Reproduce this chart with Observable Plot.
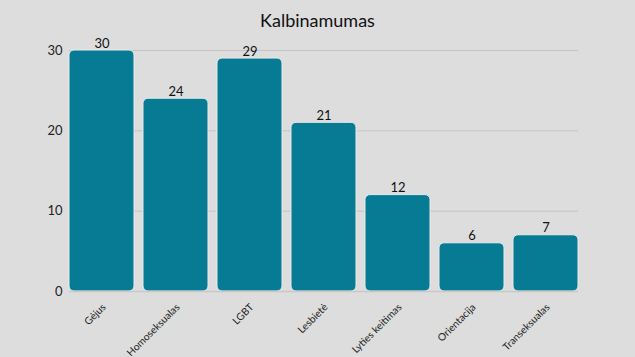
<!DOCTYPE html>
<html>
<head>
<meta charset="utf-8">
<script src="https://cdn.jsdelivr.net/npm/d3@7"></script>
<script src="https://cdn.jsdelivr.net/npm/@observablehq/plot@0.6"></script>
<style>
  html, body { margin: 0; padding: 0; background: #dddddd; }
  #wrap { position: relative; width: 635px; height: 357px; overflow: hidden; background: #dddddd; }
  #title { position: absolute; left: 0; top: 8px; width: 635px; height: 24px; line-height: 24px; text-align: center; font-family: Lato, "Noto Sans", sans-serif; font-size: 18px; color: #111; }
  #chart { position: absolute; left: 0; top: 0; }
</style>
</head>
<body>
<div id="wrap">
  <div id="chart"></div>
  <div id="title">Kalbinamumas</div>
</div>
<script>
const categories = ["Gėjus", "Homoseksualas", "LGBT", "Lesbietė", "Lyties keitimas", "Orientacija", "Transeksualas"];
const values = [30, 24, 29, 21, 12, 6, 7];
const yTicks = [0, 10, 20, 30];

const data = categories.map((c, i) => ({category: c, value: values[i]}));

const chart = Plot.plot({
  width: 635,
  height: 357,
  marginLeft: 69,
  marginRight: 57,
  marginTop: 50,
  marginBottom: 66,
  style: {background: "transparent", fontFamily: "Lato, 'Noto Sans', sans-serif", fontSize: "12px", color: "#222", overflow: "visible"},
  x: {domain: categories, paddingInner: 0.1216, paddingOuter: 0, round: false},
  y: {domain: [0, 30]},
  marks: [
    Plot.gridY(yTicks, {stroke: "#c4c4c4", strokeOpacity: 1, strokeWidth: 1}),
    Plot.axisY(yTicks, {tickSize: 0, tickPadding: 7, fontSize: 13, label: null}),
    Plot.axisX({tickSize: 0, tickRotate: -45, tickPadding: 14, dx: 2, fontSize: 10.2, label: null}),
    Plot.barY(data, {x: "category", y: "value", fill: "#067b93", stroke: "#ececec", strokeWidth: 1, rx: 5}),
    Plot.ruleY([0], {stroke: "#c8c8c8", strokeWidth: 1.5}),
    Plot.text(data, {x: "category", y: "value", text: d => String(d.value), lineAnchor: "bottom", dy: -3, fontSize: 13, fill: "#111"})
  ]
});
document.getElementById("chart").appendChild(chart);
</script>
</body>
</html>
